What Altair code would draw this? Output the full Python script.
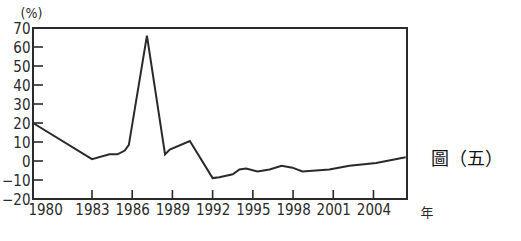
import altair as alt
import pandas as pd

years = [1978.6, 1983.0, 1984.3, 1984.9, 1985.45, 1985.75, 1987.1, 1988.45, 1988.8,
         1990.3, 1992.0, 1992.5, 1993.5, 1994.0, 1994.5, 1995.35, 1996.25,
         1997.15, 1997.95, 1998.7, 2000.7, 2002.2, 2004.2, 2006.4]
values = [20, 1, 3.5, 3.5, 5.5, 8.5, 66, 3.5, 6,
          10.5, -9, -8.5, -7, -4.5, -4, -5.5, -4.5,
          -2.5, -3.5, -5.5, -4.5, -2.5, -1, 2]

x_tick_values = [1983, 1986, 1989, 1992, 1995, 1998, 2001, 2004]
x_label_values = [1979.5] + x_tick_values
y_tick_values = [-10, 0, 10, 20, 30, 40, 50, 60]
y_label_values = [-20, -10, 0, 10, 20, 30, 40, 50, 60, 70]

FONT = "Liberation Sans Narrow, DejaVu Sans Condensed, sans-serif"
INK = "#2a2a2a"

df = pd.DataFrame({"year": years, "value": values})
xticks = pd.DataFrame({"year": x_tick_values})
yticks = pd.DataFrame({"value": y_tick_values})

xscale = alt.Scale(domain=[1978.6, 2006.5], nice=False, zero=False)
yscale = alt.Scale(domain=[-20, 70], nice=False, zero=False)

xaxis = alt.Axis(values=x_label_values, format="d",
                 labelExpr="datum.value < 1980 ? '1980' : datum.label",
                 domain=False, ticks=False, grid=False,
                 labelFont=FONT, labelFontSize=15, labelColor=INK,
                 labelPadding=3, labelFlush=False, labelOverlap=False,
                 title="年", titleFont="Noto Sans CJK TC",
                 titleFontSize=13, titleFontWeight="normal",
                 titleColor=INK, titleX=387, titleY=13,
                 titleAnchor="start", titleAlign="left",
                 titleBaseline="middle")
yaxis = alt.Axis(values=y_label_values, domain=False, ticks=False, grid=False,
                 labelFont=FONT, labelFontSize=15, labelColor=INK,
                 labelPadding=3, labelFlush=False, labelOverlap=False,
                 title="(%)", titleAngle=0, titleFont=FONT,
                 titleFontSize=14, titleFontWeight="normal",
                 titleColor=INK, titleX=-13, titleY=-15,
                 titleAlign="left", titleBaseline="middle")

line = alt.Chart(df).mark_line(color=INK, strokeWidth=2).encode(
    x=alt.X("year:Q", scale=xscale, axis=xaxis),
    y=alt.Y("value:Q", scale=yscale, axis=yaxis),
)

ytick_rules = alt.Chart(yticks).mark_rule(color=INK, strokeWidth=1.6).encode(
    y=alt.Y("value:Q", scale=yscale, axis=yaxis),
    x=alt.value(0), x2=alt.value(10),
)

xtick_rules = alt.Chart(xticks).mark_rule(color=INK, strokeWidth=1.6).encode(
    x=alt.X("year:Q", scale=xscale, axis=xaxis),
    y=alt.value(162), y2=alt.value(171),
)

caption = alt.Chart(pd.DataFrame({"t": ["圖（五）"]})).mark_text(
    font="Noto Sans CJK TC", fontSize=18, color="#111", align="center",
    baseline="middle").encode(
    text="t:N", x=alt.value(434), y=alt.value(132))

chart = alt.layer(line, ytick_rules, xtick_rules, caption).properties(
    width=374, height=171,
    background="white",
    autosize=alt.AutoSizeParams(type="none"),
    padding={"left": 33, "top": 28, "right": 114, "bottom": 42},
).configure_view(stroke=INK, strokeWidth=2)

chart.save("out.html", embed_options={"renderer": "svg", "actions": False})
